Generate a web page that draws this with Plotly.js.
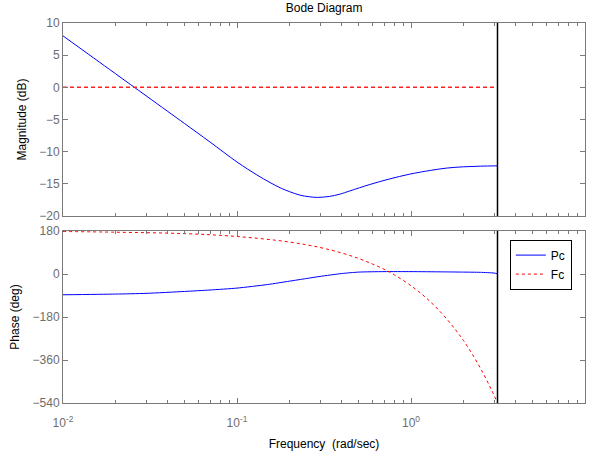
<!DOCTYPE html>
<html>
<head>
<meta charset="utf-8">
<script src="https://cdn.plot.ly/plotly-3.0.1.min.js"></script>
<style>html,body{margin:0;padding:0;background:#fff;}#chart{width:592px;height:457px;}</style>
</head>
<body>
<div id="chart"></div>
<script>
// Frequency grid (rad/sec) for magnitude of Pc
const magFreq = [0.01, 0.015, 0.02, 0.03, 0.04, 0.05, 0.07, 0.1, 0.13, 0.155, 0.18, 0.2, 0.23, 0.26, 0.29, 0.34, 0.39, 0.445, 0.58, 0.75, 0.98, 1.3, 1.6, 2.0, 2.5, 3.1416];
const pcMag = [8.0, 4.57, 2.13, -1.3, -3.74, -5.63, -8.5, -11.6, -13.6, -14.8, -15.7, -16.2, -16.75, -17.0, -17.1, -16.95, -16.6, -16.1, -15.1, -14.25, -13.5, -12.9, -12.55, -12.35, -12.25, -12.2];
// Fc magnitude (flat 0 dB)
const fcMagFreq = [0.01, 3.1416];
const fcMag = [0, 0];

// Phase of Pc
const pcPhaseFreq = [0.01, 0.02, 0.03, 0.05, 0.07, 0.1, 0.15, 0.2, 0.25, 0.3, 0.4, 0.5, 0.7, 1.0, 1.5, 2.0, 2.5, 3.0, 3.1416];
const pcPhase = [-87, -84, -81, -73, -67, -59, -44, -30, -19, -10, 2, 8, 10, 10, 9, 8, 7, 4, 1];
// Phase of Fc
const fcPhaseFreq = [0.01, 0.02, 0.05, 0.1, 0.2, 0.3, 0.4, 0.5, 0.6, 0.7, 0.8, 1.0, 1.2, 1.5, 1.8, 2.0, 2.3, 2.6, 2.9, 3.1416];
const fcPhase = [178, 175, 169, 157, 134, 111, 88, 65, 42, 20, -3, -49, -95, -164, -233, -278, -347, -416, -485, -540];

const nyquist = [3.1416, 3.1416];
const magLimits = [-20, 10];
const phaseLimits = [-540, 180];

const magTicks = [-20, -15, -10, -5, 0, 5, 10];
const phaseTicks = [-540, -360, -180, 0, 180];
const xTickVals = [0.01, 0.1, 1, 10];
const xTickText = ['10<sup>-2</sup>', '10<sup>-1</sup>', '10<sup>0</sup>', '10<sup>1</sup>'];
const xMinor = [0.02,0.03,0.04,0.05,0.06,0.07,0.08,0.09,0.2,0.3,0.4,0.5,0.6,0.7,0.8,0.9,2,3,4,5,6,7,8,9];

const axisGrey = '#7a7a7a';
const tickFontColor = '#6d6d6d';
const font = {family: 'Liberation Sans, Arial, sans-serif', size: 12, color: '#000'};

const data = [
  {x: magFreq, y: pcMag, xaxis: 'x', yaxis: 'y', mode: 'lines', name: 'Pc', line: {color: '#0000ff', width: 1, shape: 'spline', smoothing: 1}, showlegend: false, hoverinfo: 'skip'},
  {x: fcMagFreq, y: fcMag, xaxis: 'x', yaxis: 'y', mode: 'lines', name: 'Fc', line: {color: '#ff2020', width: 1.5, dash: '4px,3px'}, showlegend: false, hoverinfo: 'skip'},
  {x: nyquist, y: magLimits, xaxis: 'x', yaxis: 'y', mode: 'lines', line: {color: '#000', width: 1.5}, showlegend: false, hoverinfo: 'skip'},
  {x: pcPhaseFreq, y: pcPhase, xaxis: 'x2', yaxis: 'y2', mode: 'lines', name: 'Pc', line: {color: '#0000ff', width: 1, shape: 'spline', smoothing: 0.6}, hoverinfo: 'skip'},
  {x: fcPhaseFreq, y: fcPhase, xaxis: 'x2', yaxis: 'y2', mode: 'lines', name: 'Fc', line: {color: '#ff0000', width: 1, dash: '3px,3px', shape: 'spline'}, hoverinfo: 'skip'},
  {x: nyquist, y: phaseLimits, xaxis: 'x2', yaxis: 'y2', mode: 'lines', line: {color: '#000', width: 1.5}, showlegend: false, hoverinfo: 'skip'}
];

function xAxis(anchor, showLabels, title) {
  const ax = {
    type: 'log', range: [-2, 1], anchor: anchor,
    showline: true, linecolor: axisGrey, linewidth: 1, mirror: 'ticks',
    ticks: 'inside', ticklen: 5, tickcolor: axisGrey, tickwidth: 1,
    tickmode: 'array', tickvals: xTickVals, ticktext: xTickText,
    showticklabels: showLabels, tickfont: {size: 12, color: tickFontColor},
    ticklabelstandoff: 9,
    minor: {tickmode: 'array', tickvals: xMinor, ticks: 'inside', ticklen: 3, tickcolor: axisGrey, showgrid: false},
    showgrid: false, zeroline: false
  };
  if (title) ax.title = {text: title, font: {size: 12, color: '#000'}, standoff: 10};
  return ax;
}
function yAxis(anchor, domain, range, ticks, title, standoff) {
  return {
    domain: domain, range: range, anchor: anchor,
    showline: true, linecolor: axisGrey, linewidth: 1, mirror: 'ticks',
    ticks: 'inside', ticklen: 5, tickcolor: axisGrey, tickwidth: 1,
    tickmode: 'array', tickvals: ticks, tickfont: {size: 12, color: tickFontColor},
    showgrid: false, zeroline: false,
    title: {text: title, font: {size: 12, color: '#000'}, standoff: standoff}
  };
}

const layout = {
  width: 592, height: 457,
  margin: {l: 63, r: 7, t: 23, b: 54},
  paper_bgcolor: '#fff', plot_bgcolor: '#fff',
  font: font,
  title: {text: 'Bode Diagram', font: {size: 12, color: '#000'}, x: 0.5475, xanchor: 'center', y: 0.992, yanchor: 'top'},
  xaxis: xAxis('y', false, null),
  yaxis: yAxis('x', [0.492, 1], magLimits, magTicks, 'Magnitude (dB)', 10),
  xaxis2: xAxis('y2', true, 'Frequency\u00a0 (rad/sec)'),
  yaxis2: yAxis('x2', [0, 0.4526], phaseLimits, phaseTicks, 'Phase (deg)', 10),
  showlegend: true,
  legend: {x: 0.856, y: 0.43, xanchor: 'left', yanchor: 'top', bgcolor: '#fff', bordercolor: '#000', borderwidth: 1,
           font: {size: 12, color: '#000'}, tracegroupgap: 0, itemwidth: 30}
};

Plotly.newPlot('chart', data, layout, {staticPlot: true, displayModeBar: false});
</script>
</body>
</html>
